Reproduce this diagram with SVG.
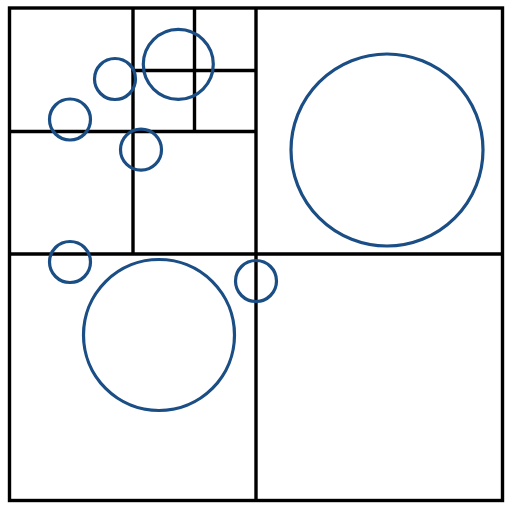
<svg xmlns="http://www.w3.org/2000/svg" width="514" height="512" viewBox="0 0 514 512">
<style>
.g{stroke:#000;stroke-width:3.4;fill:none}
.c{stroke:#1a4e85;stroke-width:3.2;fill:none}
</style>
<rect width="514" height="512" fill="#fff"/>
<g id="grid">
<rect class="g" x="9.5" y="8" width="493" height="492.5"/>
<line class="g" x1="256" y1="8" x2="256" y2="500"/>
<line class="g" x1="9.5" y1="254" x2="502.5" y2="254"/>
<line class="g" x1="133" y1="8" x2="133" y2="254"/>
<line class="g" x1="9.5" y1="131.5" x2="256" y2="131.5"/>
<line class="g" x1="194.5" y1="8" x2="194.5" y2="131.5"/>
<line class="g" x1="131.5" y1="70.5" x2="256" y2="70.5"/>
</g>
<g id="circles">
<circle class="c" cx="387" cy="150" r="96"/>
<circle class="c" cx="159" cy="335" r="75.5"/>
<circle class="c" cx="256" cy="281" r="20.5"/>
<circle class="c" cx="70" cy="262" r="20.5"/>
<circle class="c" cx="70" cy="119.5" r="20.5"/>
<circle class="c" cx="115" cy="79" r="20.5"/>
<circle class="c" cx="178.3" cy="64.3" r="35"/>
<circle class="c" cx="141" cy="149.7" r="20.5"/>
</g>
</svg>
